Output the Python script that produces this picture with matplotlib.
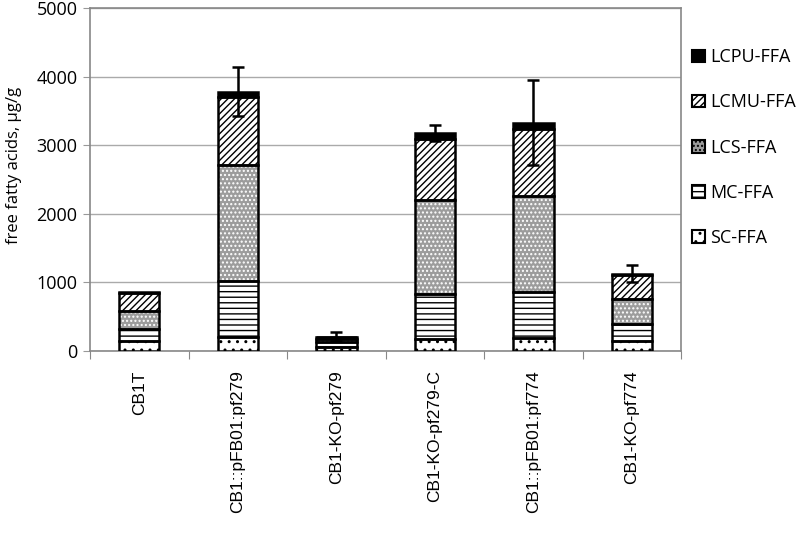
import matplotlib.pyplot as plt
import numpy as np
from matplotlib.patches import Patch

plt.rcParams['font.family'] = ['Open Sans', 'DejaVu Sans']
plt.rcParams['hatch.linewidth'] = 1.0

# Data (µg/g)
strains = ["CB1T", "CB1::pFB01:pf279", "CB1-KO-pf279", "CB1-KO-pf279-C",
           "CB1::pFB01:pf774", "CB1-KO-pf774"]
sc_ffa = [140, 210, 60, 175, 195, 145]
mc_ffa = [180, 810, 70, 650, 670, 245]
lcs_ffa = [265, 1685, 40, 1375, 1395, 365]
lcmu_ffa = [260, 1000, 30, 890, 980, 350]
lcpu_ffa = [15, 75, 10, 85, 85, 20]
errors = [0, 360, 70, 120, 620, 125]

series = [
    ("SC-FFA", sc_ffa, "white", "black", ".."),
    ("MC-FFA", mc_ffa, "white", "black", "---"),
    ("LCS-FFA", lcs_ffa, "#9c9c9c", "white", "...."),
    ("LCMU-FFA", lcmu_ffa, "white", "black", "/////"),
    ("LCPU-FFA", lcpu_ffa, "black", "black", None),
]

fig = plt.figure(figsize=(8, 5.35), dpi=100)
ax = fig.add_axes([0.1125, 0.344, 0.739, 0.641])

x = np.arange(len(strains))
width = 0.41
bottom = np.zeros(len(strains))
handles = []
for name, vals, fc, hc, hatch in series:
    vals = np.array(vals, dtype=float)
    ax.bar(x, vals, width, bottom=bottom, color=fc, edgecolor=hc,
           hatch=hatch, linewidth=0, zorder=3)
    ax.bar(x, vals, width, bottom=bottom, facecolor="none",
           edgecolor="black", linewidth=1.8, zorder=4)
    bottom += vals
    handles.append(Patch(facecolor=fc, edgecolor="black", hatch=hatch,
                         linewidth=1.5, label=name))

totals = bottom
for xi, t, e in zip(x, totals, errors):
    if e > 0:
        ax.errorbar(xi, t, yerr=e, color="black", capsize=4, capthick=1.8,
                    elinewidth=1.8, zorder=5)

ax.set_xlim(-0.5, len(strains) - 0.5)
ax.set_ylim(0, 5000)
ax.set_yticks(range(0, 5001, 1000))
ax.yaxis.grid(True, color="#aaaaaa", linewidth=1, zorder=0)
ax.tick_params(axis="y", length=5, color="#999999", labelsize=13, pad=4)

# category boundary ticks, labels at bar centres
ax.set_xticks(np.arange(-0.5, len(strains), 1.0))
ax.set_xticklabels([])
ax.tick_params(axis="x", which="major", length=6, color="#888888", direction="out")
ax.set_xticks(x, minor=True)
ax.set_xticklabels(strains, minor=True, rotation=90, fontsize=12.5,
                   family=["Liberation Sans", "DejaVu Sans"])
ax.tick_params(axis="x", which="minor", length=0, pad=14)

for s in ax.spines.values():
    s.set_color("#888888")
    s.set_linewidth(1.2)

ax.set_ylabel("free fatty acids, µg/g", fontsize=12)
ax.yaxis.set_label_coords(-0.115, 0.54)

fig.legend(handles[::-1], [h.get_label() for h in handles[::-1]],
           loc="upper left", bbox_to_anchor=(0.845, 0.94), frameon=False,
           fontsize=13, handlelength=0.7, handleheight=0.7,
           handletextpad=0.3, labelspacing=1.5)

fig.savefig("out.png", dpi=100)
